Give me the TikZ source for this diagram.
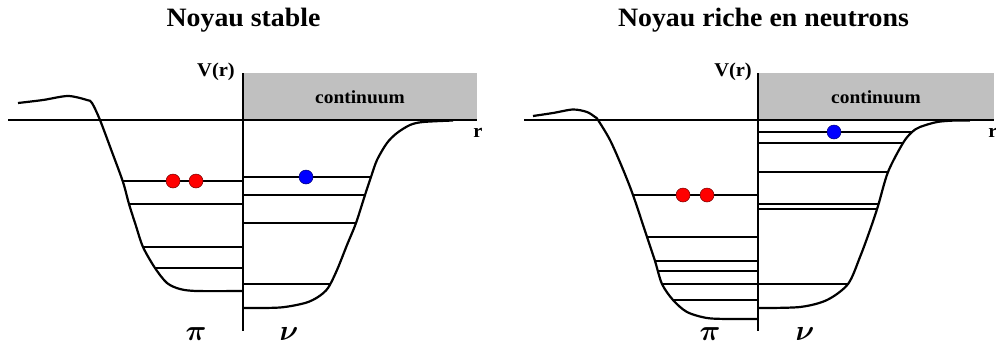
\documentclass[tikz,border=0pt]{standalone}
\usepackage{amsmath}
\usepackage{fontspec}
\setmainfont{Liberation Serif}[FakeStretch=1.05]
\usepackage{tikz}
\usetikzlibrary{positioning}
\definecolor{contgris}{RGB}{192,192,192}

\begin{document}
\begin{tikzpicture}[
  x=1pt, y=-1pt,
  axe/.style    = {line width=2.2pt, black},
  pot/.style    = {line width=2.2pt, black, smooth},
  niveau/.style = {line width=1.8pt, black},
  titre/.style  = {font=\fontsize{26.5}{30}\selectfont\bfseries},
  lab/.style    = {font=\fontsize{19.5}{22}\selectfont\bfseries, inner sep=0pt},
  cont/.style   = {font=\fontsize{18.5}{21}\selectfont\bfseries},
  grec/.style   = {inner sep=0pt},
  pdot/.style   = {circle, fill=red, draw=red!45!black, line width=0.5pt,
                   minimum size=14pt, inner sep=0pt},
  ndot/.style   = {circle, fill=blue, draw=blue!45!black, line width=0.5pt,
                   minimum size=14pt, inner sep=0pt},
]
\useasboundingbox (0,0) rectangle (996,349);

%% Noyau stable
\node[titre] (t1) at (243.5,20) {Noyau stable};
\fill[contgris] (243,73) rectangle (477,120);
\node[cont] (c1) at (360,97) {continuum};
\draw[axe] (8,120) -- (477,120);
\draw[axe] (243,73) -- (243,331);
\node[lab] (v1) at (216,72) {V(r)};
\node[lab] (r1) at (478,133) {r};

\draw[pot] plot coordinates {(18,103) (43,100) (68,96) (87,100) (92,103)
  (100,120) (112,152) (123,182) (129,204) (136,226) (143,247) (155,268)
  (167,283) (180,289) (197,291) (243,291)};
\foreach \y/\x in {181/123, 204/129, 247/143, 268/155}
  \draw[niveau] (\x,\y) -- (243,\y);

\draw[pot] plot coordinates {(243,308) (280,307.5) (305,303) (318,297)
  (328,288) (337,270) (347,245) (356,223) (365,195) (371,177) (377,160)
  (387,143) (397,133) (410,125) (423,122) (453,120.5)};
\foreach \y/\x in {177/371, 195/365, 223/356, 284/330}
  \draw[niveau] (243,\y) -- (\x,\y);

\node[pdot] (p1) at (173,181) {};
\node[pdot] (p2) at (196,181) {};
\node[ndot] (n1) at (306,177) {};
\node[grec] (pi1) at (196,334) {\scalebox{2.9}{$\boldsymbol{\pi}$}};
\node[grec] (nu1) at (289,334) {\scalebox{2.9}{$\boldsymbol{\nu}$}};

%% Noyau riche en neutrons
\node[titre] (t2) at (763.5,20) {Noyau riche en neutrons};
\fill[contgris] (758,73) rectangle (994,120);
\node[cont] (c2) at (876,97) {continuum};
\draw[axe] (524,120) -- (994,120);
\draw[axe] (758,73) -- (758,331);
\node[lab] (v2) at (733,72) {V(r)};
\node[lab] (r2) at (993,133) {r};

\draw[pot] plot coordinates {(533,116) (553,113) (573,109.5) (587,112)
  (595,117) (598,120) (610,140) (622,167) (633,195) (647,237) (655,261)
  (662,284) (673,300) (687,312) (707,318) (730,319) (758,319)};
\foreach \y/\x in {195/633, 237/647, 261/655, 271/658, 284/662, 300/673}
  \draw[niveau] (\x,\y) -- (758,\y);

\draw[pot] plot coordinates {(758,308) (800,307) (827,300) (848,284)
  (860,257) (870,230) (878,206) (888,172) (903,143) (912,132) (920,127)
  (937,122) (955,120.5) (970,120.5)};
\foreach \y/\x in {132/912, 143/903, 172/889, 204/879, 209/877, 284/848}
  \draw[niveau] (758,\y) -- (\x,\y);

\node[pdot] (p3) at (683,195) {};
\node[pdot] (p4) at (707,195) {};
\node[ndot] (n2) at (834,132) {};
\node[grec] (pi2) at (710,334) {\scalebox{2.9}{$\boldsymbol{\pi}$}};
\node[grec] (nu2) at (805,334) {\scalebox{2.9}{$\boldsymbol{\nu}$}};

\end{tikzpicture}
\end{document}
